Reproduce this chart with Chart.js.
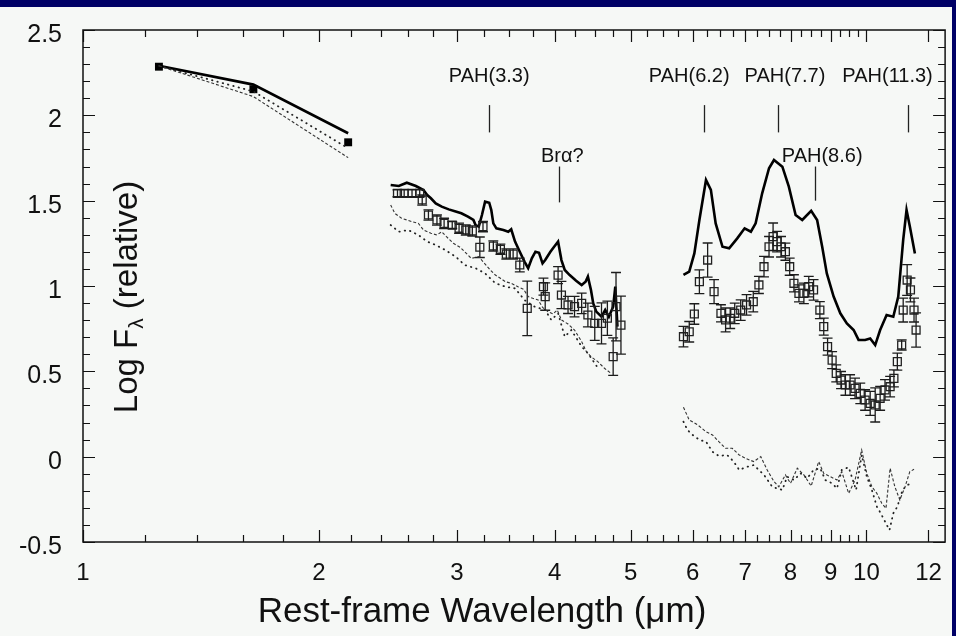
<!DOCTYPE html>
<html>
<head>
<meta charset="utf-8">
<title>SED</title>
<script src="https://cdn.jsdelivr.net/npm/chart.js@4.4.1/dist/chart.umd.min.js"></script>
<style>
  html, body { margin: 0; padding: 0; background: #000066; overflow: hidden; }
  #frame { position: absolute; left: 0; top: 7px; width: 952px; height: 629px; background: #f6f8f6; }
</style>
</head>
<body>
<div id="frame"><canvas id="sed" width="952" height="629"></canvas></div>
<script>
// ---- near-IR photometry (J, H, K) ----
const nirWave   = [1.25, 1.65, 2.18];
const nirObs    = [2.285, 2.153, 1.842];
const nirModelA = [2.29, 2.18, 1.895];
const nirModelB = [2.29, 2.11, 1.752];
const nirModelC = [2.29, 2.14, 1.807];

// ---- 2.5-5 um spectrum ----
const lWaveD = [2.52, 2.57, 2.63, 2.69, 2.71, 2.76, 2.83, 2.89, 2.96, 3.02, 3.08, 3.14, 3.21, 3.24, 3.34, 3.41, 3.47,
                3.54, 3.61, 3.69, 3.87, 3.89, 4.04, 4.08, 4.16, 4.24, 4.33, 4.41, 4.50, 4.59, 4.67, 4.75, 4.79, 4.86];
const lFluxD = [1.543, 1.543, 1.543, 1.543, 1.504, 1.416, 1.387, 1.367, 1.357, 1.338, 1.328, 1.322, 1.227, 1.348, 1.234, 1.215, 1.187,
                1.187, 1.123, 0.869, 0.996, 0.938, 1.064, 0.947, 0.889, 0.879, 0.898, 0.830, 0.781, 0.781, 0.811, 0.586, 0.879, 0.771];
const lErrD  = [0.02, 0.02, 0.02, 0.02, 0.03, 0.03, 0.03, 0.03, 0.02, 0.03, 0.03, 0.03, 0.06, 0.03, 0.03, 0.03, 0.03,
                0.03, 0.04, 0.16, 0.05, 0.08, 0.05, 0.08, 0.05, 0.06, 0.06, 0.07, 0.10, 0.12, 0.10, 0.11, 0.20, 0.17];

const lWaveA = [2.47, 2.53, 2.59, 2.66, 2.72, 2.75, 2.78, 2.82, 2.87, 2.93, 2.99, 3.04, 3.10, 3.15, 3.17, 3.20, 3.23, 3.26,
                3.30, 3.32, 3.34, 3.37, 3.44, 3.49, 3.52, 3.56, 3.61, 3.66, 3.70, 3.74, 3.78, 3.82, 3.86, 3.89, 3.95, 4.00,
                4.04, 4.08, 4.12, 4.18, 4.26, 4.33, 4.38, 4.41, 4.45, 4.48, 4.52, 4.59, 4.64, 4.69, 4.75, 4.78, 4.81];
const lFluxA = [1.592, 1.586, 1.605, 1.586, 1.562, 1.533, 1.514, 1.484, 1.465, 1.449, 1.436, 1.426, 1.406, 1.387, 1.357, 1.348, 1.416, 1.494,
                1.488, 1.445, 1.367, 1.338, 1.328, 1.318, 1.332, 1.260, 1.201, 1.143, 1.104, 1.162, 1.201, 1.195, 1.133, 1.152, 1.201, 1.234,
                1.260, 1.152, 1.094, 1.064, 1.031, 1.006, 1.025, 1.055, 0.977, 0.898, 0.850, 0.820, 0.859, 0.820, 0.879, 0.996, 0.762];

const lWaveB = [2.47, 2.50, 2.55, 2.63, 2.68, 2.72, 2.78, 2.83, 2.87, 2.91, 2.97, 3.03, 3.07, 3.13, 3.20, 3.24, 3.31, 3.36, 3.41, 3.46,
                3.52, 3.59, 3.65, 3.70, 3.75, 3.81, 3.86, 3.92, 3.98, 4.03, 4.08, 4.16, 4.24, 4.33, 4.39, 4.45, 4.54, 4.63, 4.72];
const lFluxB = [1.475, 1.426, 1.397, 1.377, 1.367, 1.328, 1.309, 1.299, 1.318, 1.289, 1.250, 1.227, 1.201, 1.162, 1.172, 1.143, 1.094, 1.064, 1.045, 1.025,
                1.016, 0.996, 0.981, 0.938, 0.928, 0.918, 0.875, 0.850, 0.836, 0.859, 0.801, 0.777, 0.742, 0.674, 0.615, 0.586, 0.557, 0.518, 0.488];

const lWaveC = [2.47, 2.53, 2.60, 2.68, 2.75, 2.82, 2.90, 2.99, 3.07, 3.17, 3.26, 3.36, 3.46, 3.56, 3.66, 3.77, 3.89, 3.96, 4.04, 4.12,
                4.20, 4.33, 4.41, 4.50, 4.56];
const lFluxC = [1.357, 1.318, 1.328, 1.299, 1.260, 1.240, 1.211, 1.172, 1.123, 1.104, 1.074, 1.016, 0.996, 0.986, 0.918, 0.879, 0.859, 0.801, 0.840, 0.703,
                0.742, 0.645, 0.606, 0.547, 0.508];

// ---- 5.8-12 um spectrum ----
const sWaveD = [5.84, 5.94, 6.03, 6.12, 6.27, 6.39, 6.52, 6.61, 6.70, 6.79, 6.91, 7.03, 7.17, 7.29, 7.40, 7.51, 7.60, 7.69, 7.78, 7.88,
                7.98, 8.08, 8.20, 8.32, 8.44, 8.56, 8.72, 8.82, 8.92, 9.04, 9.15, 9.28, 9.40, 9.53, 9.67, 9.82, 9.96, 10.11, 10.26, 10.41,
                10.56, 10.72, 10.84, 10.95, 11.09, 11.14, 11.27, 11.38, 11.50, 11.57];
const sFluxD = [0.703, 0.732, 0.836, 1.025, 1.152, 0.967, 0.840, 0.801, 0.811, 0.840, 0.859, 0.889, 0.908, 1.006, 1.113, 1.230, 1.289, 1.260, 1.230, 1.201,
                1.113, 1.016, 0.957, 0.957, 0.996, 0.977, 0.859, 0.762, 0.645, 0.566, 0.488, 0.449, 0.420, 0.420, 0.400, 0.371, 0.332, 0.312, 0.303, 0.342,
                0.391, 0.410, 0.459, 0.557, 0.654, 0.859, 1.035, 0.977, 0.859, 0.742];
const sErrD  = [0.06, 0.06, 0.06, 0.07, 0.10, 0.07, 0.05, 0.07, 0.06, 0.06, 0.06, 0.06, 0.06, 0.05, 0.06, 0.06, 0.08, 0.06, 0.06, 0.05,
                0.05, 0.05, 0.05, 0.06, 0.06, 0.06, 0.05, 0.05, 0.05, 0.05, 0.05, 0.05, 0.06, 0.06, 0.06, 0.06, 0.06, 0.07, 0.10, 0.07,
                0.06, 0.06, 0.05, 0.05, 0.03, 0.07, 0.09, 0.07, 0.07, 0.10];

const sWaveA = [5.84, 5.94, 6.03, 6.12, 6.24, 6.33, 6.42, 6.55, 6.68, 6.84, 6.99, 7.12, 7.22, 7.36, 7.51, 7.62, 7.81, 7.96, 8.12, 8.28,
                8.50, 8.65, 8.78, 8.90, 9.08, 9.26, 9.44, 9.63, 9.77, 9.96, 10.11, 10.26, 10.41, 10.61, 10.82, 10.98, 11.14, 11.25, 11.36, 11.53];
const sFluxA = [1.065, 1.084, 1.191, 1.387, 1.621, 1.563, 1.367, 1.230, 1.221, 1.279, 1.338, 1.318, 1.367, 1.543, 1.690, 1.738, 1.699, 1.582, 1.416, 1.387,
                1.441, 1.387, 1.230, 1.074, 0.938, 0.840, 0.781, 0.742, 0.684, 0.684, 0.693, 0.654, 0.742, 0.830, 0.820, 0.938, 1.270, 1.445, 1.348, 1.191];

const sWaveB = [5.84, 5.94, 6.09, 6.24, 6.36, 6.48, 6.61, 6.74, 6.88, 7.01, 7.18, 7.33, 7.47, 7.62, 7.73, 7.88, 8.00, 8.16, 8.32, 8.50,
                8.69, 8.82, 8.99, 9.17, 9.30, 9.49, 9.67, 9.86, 10.01, 10.16, 10.31, 10.46, 10.59, 10.72, 10.87, 11.03, 11.20, 11.36, 11.50];
const sFluxB = [0.289, 0.215, 0.186, 0.146, 0.127, 0.088, 0.049, 0.049, 0.010, -0.010, -0.029, 0.000, -0.078, -0.146, -0.176, -0.107, -0.156, -0.068, -0.107, -0.172,
                -0.029, -0.098, -0.117, -0.137, -0.088, -0.215, -0.137, 0.039, -0.098, -0.176, -0.215, -0.273, -0.303, -0.068, -0.176, -0.254, -0.176, -0.088, -0.074];

const sWaveC = [5.84, 5.91, 6.00, 6.12, 6.24, 6.36, 6.48, 6.64, 6.77, 6.88, 7.01, 7.18, 7.40, 7.58, 7.69, 7.81, 7.92, 8.08, 8.24, 8.40,
                8.56, 8.73, 8.86, 9.04, 9.17, 9.30, 9.49, 9.70, 9.86, 10.01, 10.16, 10.31, 10.43, 10.59, 10.70, 10.82, 10.95, 11.12, 11.27, 11.45];
const sFluxC = [0.205, 0.156, 0.127, 0.098, 0.088, 0.029, 0.004, 0.010, -0.029, -0.078, -0.062, -0.049, -0.107, -0.176, -0.186, -0.195, -0.117, -0.137, -0.098, -0.127,
                -0.078, -0.068, -0.137, -0.156, -0.186, -0.078, -0.062, -0.195, 0.010, -0.117, -0.195, -0.293, -0.332, -0.391, -0.430, -0.332, -0.293, -0.195, -0.166, -0.156];

// ---- feature markers ----
const featName  = ['PAH(3.3)', 'Brα?', 'PAH(6.2)', 'PAH(7.7)', 'PAH(8.6)', 'PAH(11.3)'];
const featWave  = [3.3, 4.05, 6.2, 7.7, 8.6, 11.3];
const featTextX = [3.3, 4.09, 5.94, 7.87, 8.78, 10.64];
const featTextY = [2.226, 1.756, 2.226, 2.226, 1.756, 2.226];
const featTop   = [2.06, 1.70, 2.06, 2.06, 1.70, 2.06];
const featBot   = [1.90, 1.49, 1.90, 1.90, 1.50, 1.90];

// ---- axes ----
const xMajor = [1, 2, 3, 4, 5, 6, 7, 8, 9, 10, 12];
const xMinor = [1.2, 1.4, 1.6, 1.8, 2.2, 2.4, 2.6, 2.8, 3.25, 3.5, 3.75, 4.25, 4.5, 4.75, 5.25, 5.5, 5.75,
                6.25, 6.5, 6.75, 7.25, 7.5, 7.75, 8.25, 8.5, 8.75, 9.25, 9.5, 9.75];
const yMajor = [-0.5, 0, 0.5, 1, 1.5, 2, 2.5];

const FONT = 'Liberation Sans, Arial, Helvetica, sans-serif';
const INK = '#111';

function xy(wave, flux) {
  return wave.map((w, i) => ({ x: w, y: flux[i] }));
}

// vertical bar plus caps per point, broken apart with null gaps
function errorSegments(wave, flux, err) {
  const cap = 1.0147;
  const pts = [];
  wave.forEach((w, i) => {
    const lo = flux[i] - err[i], hi = flux[i] + err[i];
    pts.push({ x: w, y: lo }, { x: w, y: hi }, { x: w, y: null });
    pts.push({ x: w / cap, y: lo }, { x: w * cap, y: lo }, { x: w, y: null });
    pts.push({ x: w / cap, y: hi }, { x: w * cap, y: hi }, { x: w, y: null });
  });
  return pts;
}

function modelLine(data, style) {
  return Object.assign({ data: data, showLine: true, pointRadius: 0, spanGaps: false, fill: false, tension: 0 }, style);
}

const solidStyle  = { borderColor: '#000', borderWidth: 2.6 };
const dashedStyle = { borderColor: '#333', borderWidth: 1.1, borderDash: [3, 2] };
const dottedStyle = { borderColor: '#222', borderWidth: 1.8, borderDash: [0.5, 5], borderCapStyle: 'round' };
const errStyle    = { borderColor: '#1c1c1c', borderWidth: 1.3 };
const boxStyle    = { showLine: false, pointStyle: 'rect', pointRadius: 5.6, pointBorderWidth: 1.3,
                      pointBorderColor: '#222', pointBackgroundColor: 'rgba(0,0,0,0)' };

const datasets = [
  modelLine(xy(nirWave, nirModelB), dashedStyle),
  modelLine(xy(nirWave, nirModelC), dottedStyle),
  modelLine(xy(nirWave, nirModelA), solidStyle),
  { data: xy(nirWave, nirObs), showLine: false, pointStyle: 'rect', pointRadius: 5.6,
    pointBorderWidth: 0, pointBackgroundColor: '#000' },

  modelLine(xy(lWaveB, lFluxB), dashedStyle),
  modelLine(xy(lWaveC, lFluxC), dottedStyle),
  modelLine(errorSegments(lWaveD, lFluxD, lErrD), errStyle),
  Object.assign({ data: xy(lWaveD, lFluxD) }, boxStyle),
  modelLine(xy(lWaveA, lFluxA), solidStyle),

  modelLine(xy(sWaveB, sFluxB), dashedStyle),
  modelLine(xy(sWaveC, sFluxC), dottedStyle),
  modelLine(errorSegments(sWaveD, sFluxD, sErrD), errStyle),
  Object.assign({ data: xy(sWaveD, sFluxD) }, boxStyle),
  modelLine(xy(sWaveA, sFluxA), solidStyle)
];

// box round the plot with inward ticks on all four sides
const frameTicks = {
  id: 'frameTicks',
  afterDatasetsDraw(chart) {
    const { ctx, chartArea: a, scales: { x, y } } = chart;
    ctx.save();
    ctx.strokeStyle = INK;
    ctx.lineWidth = 1.5;
    ctx.strokeRect(a.left, a.top, a.right - a.left, a.bottom - a.top);
    ctx.lineWidth = 1.2;
    ctx.beginPath();
    const xt = (v, len) => {
      const px = Math.round(x.getPixelForValue(v)) + 0.5;
      ctx.moveTo(px, a.bottom); ctx.lineTo(px, a.bottom - len);
      ctx.moveTo(px, a.top); ctx.lineTo(px, a.top + len);
    };
    const yt = (v, len) => {
      const py = Math.round(y.getPixelForValue(v)) + 0.5;
      ctx.moveTo(a.left, py); ctx.lineTo(a.left + len, py);
      ctx.moveTo(a.right, py); ctx.lineTo(a.right - len, py);
    };
    xMajor.forEach(v => xt(v, 12));
    xMinor.forEach(v => xt(v, 7));
    for (let v = -0.5; v <= 2.5001; v += 0.1) {
      const major = yMajor.some(m => Math.abs(m - v) < 1e-6);
      yt(v, major ? 12 : 7);
    }
    ctx.stroke();
    ctx.restore();
  }
};

// line-identification labels above the spectra
const featureMarks = {
  id: 'featureMarks',
  afterDatasetsDraw(chart) {
    const { ctx, scales: { x, y } } = chart;
    ctx.save();
    ctx.strokeStyle = '#222';
    ctx.lineWidth = 1.3;
    ctx.fillStyle = INK;
    ctx.font = '20px ' + FONT;
    ctx.textAlign = 'center';
    ctx.textBaseline = 'middle';
    featName.forEach((name, i) => {
      const px = Math.round(x.getPixelForValue(featWave[i])) + 0.5;
      ctx.beginPath();
      ctx.moveTo(px, y.getPixelForValue(featTop[i]));
      ctx.lineTo(px, y.getPixelForValue(featBot[i]));
      ctx.stroke();
      ctx.fillText(name, x.getPixelForValue(featTextX[i]), y.getPixelForValue(featTextY[i]));
    });
    ctx.restore();
  }
};

// axis titles; the y title sits inside the frame and needs a subscript lambda
const axisTitles = {
  id: 'axisTitles',
  afterDraw(chart) {
    const ctx = chart.ctx;
    ctx.save();
    ctx.fillStyle = INK;
    ctx.textBaseline = 'middle';
    ctx.font = '35px ' + FONT;
    ctx.textAlign = 'center';
    ctx.fillText('Rest-frame Wavelength (\u03bcm)', 482, 605);

    ctx.translate(128, 290);
    ctx.rotate(-Math.PI / 2);
    const big = '33px ' + FONT, small = '21px ' + FONT;
    ctx.font = big;
    const w1 = ctx.measureText('Log F').width;
    const w3 = ctx.measureText(' (relative)').width;
    ctx.font = small;
    const w2 = ctx.measureText('\u03bb').width;
    let cx = -(w1 + w2 + w3) / 2;
    ctx.textAlign = 'left';
    ctx.font = big;
    ctx.fillText('Log F', cx, 0);
    cx += w1;
    ctx.font = small;
    ctx.fillText('\u03bb', cx, 9);
    cx += w2;
    ctx.font = big;
    ctx.fillText(' (relative)', cx, 0);
    ctx.restore();
  }
};

// fixed axis boxes so the plot frame lands where it should
function fixBox(size) {
  return s => {
    if (s.isHorizontal()) s.height = size; else s.width = size;
    s.paddingLeft = s.paddingRight = s.paddingTop = s.paddingBottom = 0;
  };
}

const chart = new Chart(document.getElementById('sed'), {
  type: 'scatter',
  data: { datasets: datasets },
  options: {
    responsive: false,
    animation: false,
    events: [],
    layout: { padding: { top: 23, right: 4, left: 0, bottom: 0 } },
    plugins: { legend: { display: false }, tooltip: { enabled: false } },
    scales: {
      x: {
        type: 'logarithmic',
        min: 1,
        max: 12.6,
        grid: { display: false, drawTicks: false },
        border: { display: false },
        afterFit: fixBox(94),
        afterBuildTicks: s => { s.ticks = xMajor.map(v => ({ value: v })); },
        ticks: {
          autoSkip: false,
          maxRotation: 0,
          padding: 17,
          color: INK,
          font: { family: FONT, size: 24 },
          callback: v => String(v)
        }
      },
      y: {
        min: -0.5,
        max: 2.5,
        grid: { display: false, drawTicks: false },
        border: { display: false },
        afterFit: fixBox(83),
        afterBuildTicks: s => { s.ticks = yMajor.map(v => ({ value: v })); },
        ticks: {
          padding: 21,
          labelOffset: 5,
          color: INK,
          font: { family: FONT, size: 25 },
          callback: v => String(v)
        }
      }
    }
  },
  plugins: [frameTicks, featureMarks, axisTitles]
});
</script>
</body>
</html>
